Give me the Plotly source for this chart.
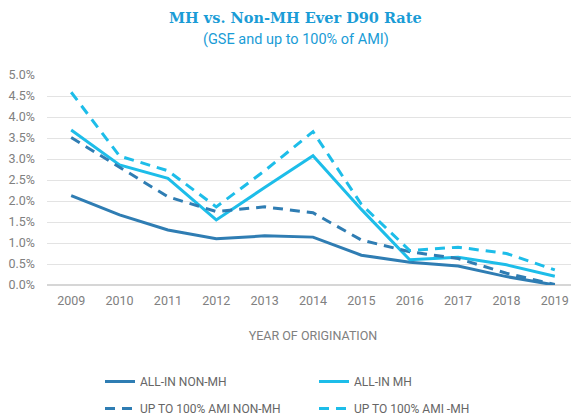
import plotly.graph_objects as go

years = [2009, 2010, 2011, 2012, 2013, 2014, 2015, 2016, 2017, 2018, 2019]
all_in_non_mh = [2.13, 1.67, 1.31, 1.10, 1.17, 1.14, 0.71, 0.54, 0.45, 0.20, 0.00]
all_in_mh = [3.69, 2.86, 2.54, 1.55, 2.32, 3.08, 1.80, 0.60, 0.66, 0.48, 0.21]
ami_non_mh = [3.51, 2.80, 2.10, 1.75, 1.86, 1.72, 1.07, 0.79, 0.63, 0.28, 0.01]
ami_mh = [4.59, 3.07, 2.72, 1.86, 2.72, 3.65, 1.92, 0.82, 0.90, 0.75, 0.36]
y_ticks = [0.0, 0.5, 1.0, 1.5, 2.0, 2.5, 3.0, 3.5, 4.0, 4.5, 5.0]

DARK = "#2f7db3"
LIGHT = "#1dbde9"
TITLE_C = "#1a9cd6"
GRAY = "#808080"

# the page body has an 8px margin, so the figure is 8px smaller than the window
W, H = 571, 408

fig = go.Figure()
fig.add_trace(go.Scatter(x=years, y=all_in_non_mh, mode="lines", name="ALL-IN NON-MH",
                         line=dict(color=DARK, width=3), legend="legend"))
fig.add_trace(go.Scatter(x=years, y=all_in_mh, mode="lines", name="ALL-IN MH",
                         line=dict(color=LIGHT, width=3), legend="legend"))
fig.add_trace(go.Scatter(x=years, y=ami_non_mh, mode="lines", name="UP TO 100% AMI NON-MH",
                         line=dict(color=DARK, width=3, dash="10px,7px"), legend="legend2"))
fig.add_trace(go.Scatter(x=years, y=ami_mh, mode="lines", name="UP TO 100% AMI -MH",
                         line=dict(color=LIGHT, width=3, dash="10px,7px"), legend="legend2"))

leg_common = dict(orientation="h", xref="container", yref="container",
                  x=92 / W, xanchor="left", yanchor="top",
                  entrywidth=169, entrywidthmode="pixels",
                  font=dict(family="Roboto", size=12, color="#666666"),
                  itemwidth=30, bgcolor="rgba(0,0,0,0)")

fig.update_layout(
    width=W, height=H,
    margin=dict(l=39, r=0, t=67, b=131, pad=0, autoexpand=False),
    paper_bgcolor="white", plot_bgcolor="white",
    font=dict(family="Roboto", size=12, color=GRAY),
    showlegend=True,
    legend=dict(leg_common, y=1 - 359 / H),
    legend2=dict(leg_common, y=1 - 386 / H),
    annotations=[
        dict(text="<b>MH vs. Non-MH Ever D90 Rate</b>", xref="paper", yref="paper",
             x=0.468, y=1.0, yshift=58, xanchor="center", yanchor="middle", showarrow=False,
             font=dict(family="DejaVu Serif", size=14.5, color=TITLE_C)),
        dict(text="(GSE and up to 100% of AMI)", xref="paper", yref="paper",
             x=0.468, y=1.0, yshift=36, xanchor="center", yanchor="middle", showarrow=False,
             font=dict(family="Roboto", size=14.5, color=TITLE_C)),
    ],
)
fig.update_xaxes(range=[2008.5, 2019.5], tickmode="array", tickvals=years,
                 ticktext=[str(y) for y in years], showgrid=False, zeroline=False,
                 showline=False, ticks="", tickfont=dict(size=12.5, color=GRAY),
                 ticklabelstandoff=6, automargin=False,
                 title=dict(text="YEAR OF ORIGINATION", standoff=24,
                            font=dict(size=12.5, color=GRAY)))
fig.update_yaxes(range=[0, 5.0], tickmode="array", tickvals=y_ticks,
                 ticktext=[f"{v:.1f}%" for v in y_ticks], showgrid=True,
                 gridcolor="#e3e3e3", gridwidth=1, zeroline=True, zerolinecolor="#d6d6d6",
                 zerolinewidth=2, showline=False, ticks="", ticklabelstandoff=11,
                 automargin=False, tickfont=dict(size=12.5, color=GRAY))

fig.write_html("out.html")
